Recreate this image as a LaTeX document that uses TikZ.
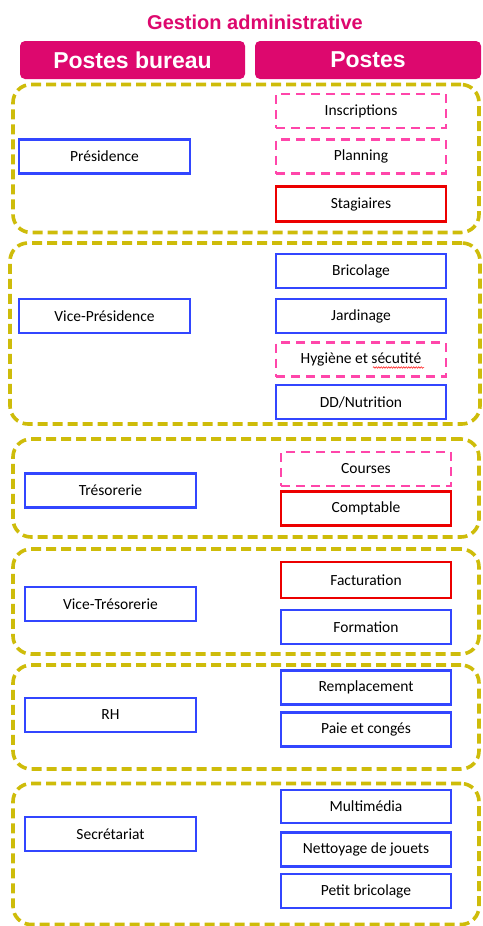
\documentclass[tikz,border=0pt]{standalone}
\usepackage{fontspec}
\setmainfont{Carlito}
\newfontfamily\arialb{Liberation Sans}
\usetikzlibrary{decorations.pathmorphing}
\definecolor{magh}{RGB}{221,8,110}
\definecolor{olive}{RGB}{206,188,10}
\definecolor{bluebox}{RGB}{50,70,255}
\definecolor{redbox}{RGB}{236,0,0}
\definecolor{pinkbox}{RGB}{255,70,170}
\tikzset{
  grp/.style={draw=olive, line width=3.6pt, dash pattern=on 10pt off 5pt, rounded corners=18pt, inner sep=0pt},
  pbox/.style={draw, line width=2.6pt, minimum width=170pt, minimum height=34pt, inner sep=0pt, font=\fontsize{15.5}{18}\selectfont},
  bluep/.style={pbox, draw=bluebox},
  redp/.style={pbox, draw=redbox},
  pinkp/.style={pbox, draw=pinkbox, line width=2.2pt, dash pattern=on 9pt off 6pt},
  hdr/.style={fill=magh, rounded corners=5pt, text=white, minimum height=38pt, inner sep=0pt, font=\arialb\bfseries\fontsize{23}{26}\selectfont}
}
\begin{document}
\begin{tikzpicture}[x=1pt,y=-1pt]
\useasboundingbox (0,0) rectangle (482,926);
\node[text=magh, font=\arialb\bfseries\fontsize{20}{23}\selectfont] (title) at (255,22) {Gestion administrative};
\node[hdr, minimum width=225pt] (h1) at (132.5,60) {Postes bureau};
\node[hdr, minimum width=226pt] (h2) at (368,60) {Postes};
% groups
\node[grp, minimum width=466pt, minimum height=148pt] (g1) at (246,158.5) {};
\node[grp, minimum width=470pt, minimum height=181pt] (g2) at (245,333.5) {};
\node[grp, minimum width=466pt, minimum height=98pt] (g3) at (246,488) {};
\node[grp, minimum width=466pt, minimum height=105pt] (g4) at (246,601.5) {};
\node[grp, minimum width=466pt, minimum height=104pt] (g5) at (246,717) {};
\node[grp, minimum width=466pt, minimum height=141pt] (g6) at (246,854) {};
% left
\node[bluep, minimum width=171pt] (pres) at (104.5,156.5) {Présidence};
\node[bluep, minimum width=171pt] (vpres) at (104.5,316) {Vice-Présidence};
\node[bluep, minimum width=171pt] (tres) at (110.5,490.5) {Trésorerie};
\node[bluep, minimum width=171pt] (vtres) at (110.5,604) {Vice-Trésorerie};
\node[bluep, minimum width=171pt] (rh) at (110.5,715) {RH};
\node[bluep, minimum width=171pt] (secr) at (110.5,834) {Secrétariat};
% right
\node[pinkp] (insc) at (361,111) {Inscriptions};
\node[pinkp] (plan) at (361,156.5) {Planning};
\node[redp, minimum height=35pt] (stag) at (361,204) {Stagiaires};
\node[bluep] (bric) at (361,271) {Bricolage};
\node[bluep] (jard) at (361,316) {Jardinage};
\node[pinkp] (hyg) at (361,359.5) {Hygiène et sécutité};
\node[bluep] (dd) at (361,402) {DD/Nutrition};
\node[pinkp] (cour) at (366,469) {Courses};
\node[redp] (comp) at (366,508.5) {Comptable};
\node[redp, minimum height=36pt] (fact) at (366,580) {Facturation};
\node[bluep] (form) at (366,627) {Formation};
\node[bluep] (remp) at (366,687.5) {Remplacement};
\node[bluep] (paie) at (366,729.5) {Paie et congés};
\node[bluep, minimum height=33pt] (mult) at (366,806.5) {Multimédia};
\node[bluep] (nett) at (366,849.5) {Nettoyage de jouets};
\node[bluep] (pbri) at (366,891) {Petit bricolage};
% spell-check underline
\coordinate (w1) at ([xshift=12pt,yshift=-8pt]hyg.center);
\coordinate (w2) at ([xshift=63pt,yshift=-8pt]hyg.center);
\draw[red, line width=0.5pt, decorate, decoration={snake, amplitude=0.8pt, segment length=2.5pt}] (w1) -- (w2);
\end{tikzpicture}
\end{document}
